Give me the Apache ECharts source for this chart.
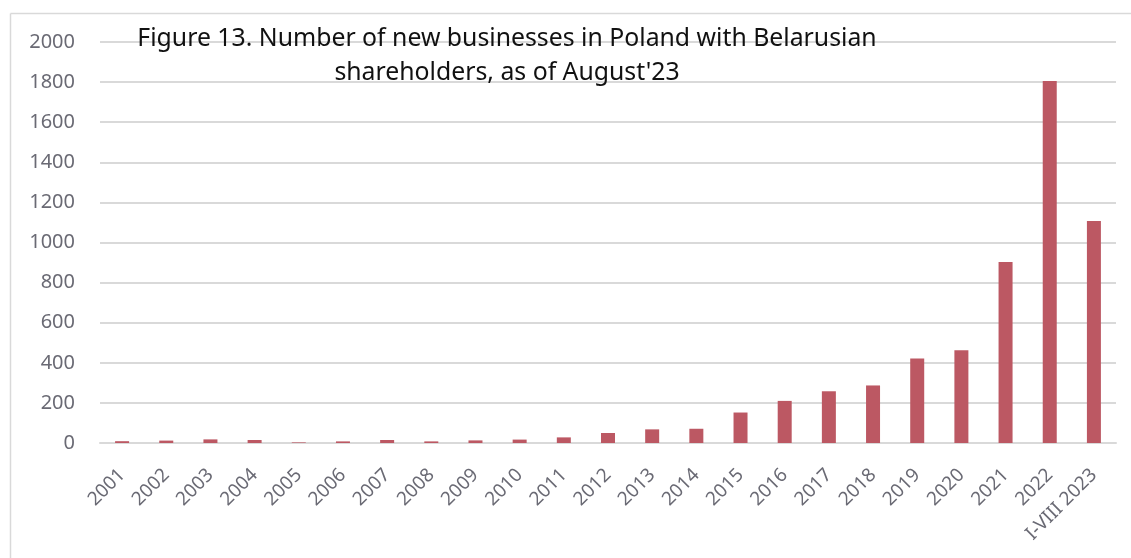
<!DOCTYPE html>
<html><head><meta charset="utf-8">
<script src="https://cdn.jsdelivr.net/npm/echarts@6/dist/echarts.min.js"></script>
<style>html,body{margin:0;padding:0;background:#fff}#c{width:1131px;height:558px}</style>
</head><body><div id="c"></div>
<script>
var categories = ['2001','2002','2003','2004','2005','2006','2007','2008','2009','2010','2011','2012','2013','2014','2015','2016','2017','2018','2019','2020','2021','2022','I-VIII 2023'];
var newBusinesses = [9, 12, 18, 15, 3, 8, 15, 8, 13, 17, 28, 50, 68, 71, 152, 210, 258, 287, 422, 463, 903, 1805, 1107];
var yTicks = [0, 200, 400, 600, 800, 1000, 1200, 1400, 1600, 1800, 2000];
var titleText = "Figure 13. Number of new businesses in Poland with Belarusian\nshareholders, as of August'23";

var chart = echarts.init(document.getElementById('c'), null, {renderer: 'canvas'});
var FONT = 'Noto Sans';
chart.setOption({
  animation: false,
  backgroundColor: '#fff',
  title: {
    text: titleText,
    left: 502, top: 17, textAlign: 'center',
    textStyle: {fontFamily: FONT, fontSize: 24.8, fontWeight: 'normal', color: '#111', lineHeight: 34, align: 'center'}
  },
  graphic: [
    {type: 'line', shape: {x1: 10.5, y1: 13.5, x2: 10.5, y2: 558}, style: {stroke: '#d9d9d9', lineWidth: 1.5}},
    {type: 'line', shape: {x1: 10.5, y1: 13.5, x2: 1131, y2: 13.5}, style: {stroke: '#d9d9d9', lineWidth: 1.5}}
  ],
  grid: {left: 100, right: 15, top: 42, bottom: 115},
  xAxis: {
    type: 'category', data: categories,
    axisLine: {show: true, lineStyle: {color: '#d9d9d9', width: 2}},
    axisTick: {show: false},
    axisLabel: {interval: 0, rotate: 45, fontFamily: FONT, fontSize: 19, color: '#6a6a74', margin: 29}
  },
  yAxis: {
    type: 'value', min: yTicks[0], max: yTicks[yTicks.length - 1], interval: 200,
    axisLine: {show: false}, axisTick: {show: false},
    splitLine: {lineStyle: {color: '#d9d9d9', width: 2}},
    axisLabel: {fontFamily: FONT, fontSize: 20, color: '#6a6a74', margin: 25, formatter: function (v) { return String(v); }}
  },
  series: [{
    type: 'bar', data: newBusinesses, barWidth: 14,
    itemStyle: {color: '#bc5863'}
  }]
});
</script></body></html>
